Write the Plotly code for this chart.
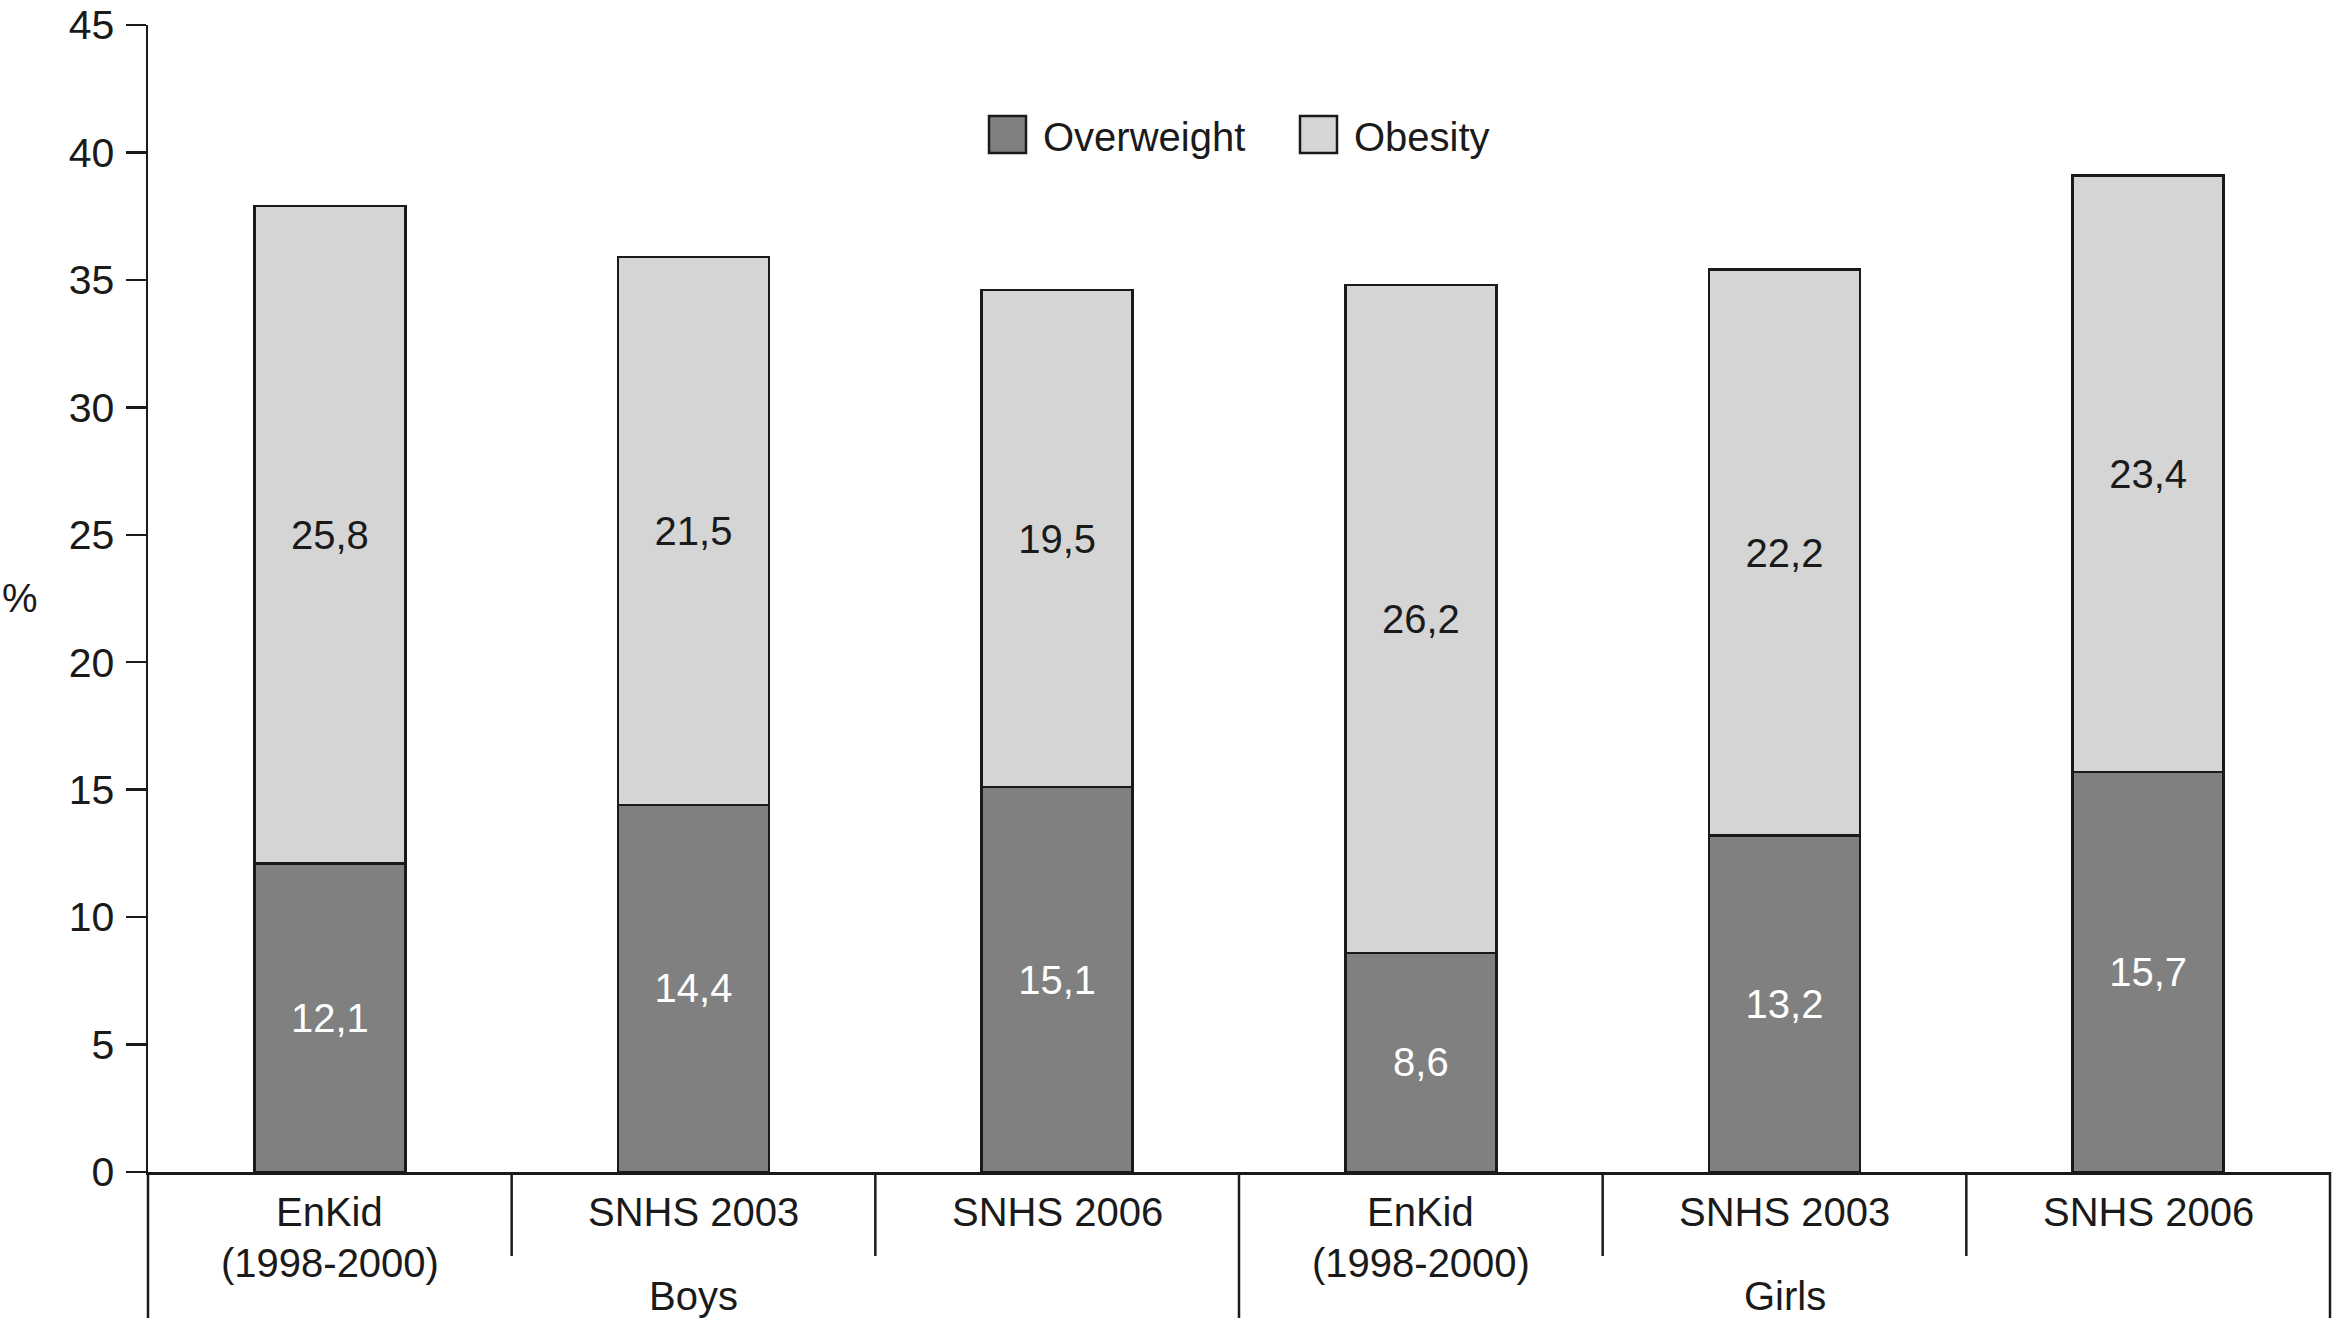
import plotly.graph_objects as go

# ---- data ----
categories = ["EnKid (1998-2000)", "SNHS 2003", "SNHS 2006",
              "EnKid (1998-2000)", "SNHS 2003", "SNHS 2006"]
cat_line1 = ["EnKid", "SNHS 2003", "SNHS 2006", "EnKid", "SNHS 2003", "SNHS 2006"]
cat_line2 = ["(1998-2000)", "", "", "(1998-2000)", "", ""]
groups = ["Boys", "Girls"]
overweight = [12.1, 14.4, 15.1, 8.6, 13.2, 15.7]
obesity = [25.8, 21.5, 19.5, 26.2, 22.2, 23.4]
y_ticks = [0, 5, 10, 15, 20, 25, 30, 35, 40, 45]

# ---- geometry (page pixels; body margin is removed by a post script) ----
W, H = 2333, 1326
AX_L, AX_R, AX_T, AX_B = 148, 2330, 25, 1172   # plot area in page pixels
ML, MT = AX_L, AX_T
MR = W - AX_R
MB = H - AX_B
PW = AX_R - AX_L
PH = AX_B - AX_T
FONT = "Liberation Sans, Arial, sans-serif"
INK = "#1a1a1a"


def px_x(px):
    return (px - AX_L) / PW


def px_y(py):
    return (AX_B - py) / PH


def fmt(v):
    return f"{v:.1f}".replace(".", ",")


xs = list(range(len(categories)))

fig = go.Figure()
fig.add_trace(go.Bar(
    x=xs, y=overweight, name="Overweight",
    marker=dict(color="#808080", line=dict(color=INK, width=2.5)),
    text=[fmt(v) for v in overweight], textposition="inside",
    insidetextanchor="middle", textangle=0, constraintext="none",
    textfont=dict(family=FONT, size=40, color="white"),
    width=0.415, showlegend=False,
))
fig.add_trace(go.Bar(
    x=xs, y=obesity, name="Obesity",
    marker=dict(color="#d5d5d5", line=dict(color=INK, width=2.5)),
    text=[fmt(v) for v in obesity], textposition="inside",
    insidetextanchor="middle", textangle=0, constraintext="none",
    textfont=dict(family=FONT, size=40, color=INK),
    width=0.415, showlegend=False,
))

shapes = []
annotations = []
n = len(categories)
# category separators below axis
for k in range(n + 1):
    long_line = k in (0, n // 2, n)
    y1 = px_y(1318) if long_line else px_y(1256)
    shapes.append(dict(type="line", xref="paper", yref="paper",
                       x0=k / n, x1=k / n, y0=0, y1=y1,
                       line=dict(color=INK, width=2.5)))

# category labels
for i in range(n):
    xc = (i + 0.5) / n
    annotations.append(dict(xref="paper", yref="paper", x=xc, y=px_y(1212),
                            text=cat_line1[i], showarrow=False,
                            xanchor="center", yanchor="middle",
                            font=dict(family=FONT, size=40, color=INK)))
    if cat_line2[i]:
        annotations.append(dict(xref="paper", yref="paper", x=xc, y=px_y(1263),
                                text=cat_line2[i], showarrow=False,
                                xanchor="center", yanchor="middle",
                                font=dict(family=FONT, size=40, color=INK)))
for g, name in enumerate(groups):
    xc = (g * 3 + 1.5) / n
    annotations.append(dict(xref="paper", yref="paper", x=xc, y=px_y(1296),
                            text=name, showarrow=False,
                            xanchor="center", yanchor="middle",
                            font=dict(family=FONT, size=40, color=INK)))

# manual legend
legend_items = [("Overweight", "#808080", 989), ("Obesity", "#d5d5d5", 1300)]
for label, color, x0 in legend_items:
    shapes.append(dict(type="rect", xref="paper", yref="paper",
                       x0=px_x(x0), x1=px_x(x0 + 37), y0=px_y(153), y1=px_y(116),
                       fillcolor=color, line=dict(color=INK, width=2.5)))
    annotations.append(dict(xref="paper", yref="paper", x=px_x(x0 + 52), y=px_y(137),
                            text=label, showarrow=False,
                            xanchor="left", yanchor="middle",
                            font=dict(family=FONT, size=40, color=INK)))

# y-axis title "%"
annotations.append(dict(xref="paper", yref="paper", x=px_x(20), y=px_y(598),
                        text="%", showarrow=False, xanchor="center", yanchor="middle",
                        font=dict(family=FONT, size=40, color=INK)))

fig.update_layout(
    width=W, height=H,
    margin=dict(l=ML, r=MR, t=MT, b=MB, pad=0),
    barmode="stack",
    paper_bgcolor="white", plot_bgcolor="white",
    shapes=shapes, annotations=annotations,
    font=dict(family=FONT, color=INK),
    xaxis=dict(range=[-0.5, n - 0.5], showticklabels=False, ticks="",
               showgrid=False, zeroline=False, showline=True,
               linecolor=INK, linewidth=2.5, fixedrange=True),
    yaxis=dict(range=[0, 45], tickvals=y_ticks, ticks="outside", ticklen=20,
               tickwidth=2.5, tickcolor=INK, showgrid=False, zeroline=False,
               showline=True, linecolor=INK, linewidth=2.5,
               tickfont=dict(family=FONT, size=41, color=INK),
               ticklabelstandoff=3, ticklabeloverflow="allow", fixedrange=True),
)

fig.write_html("out.html", config={"displayModeBar": False, "staticPlot": True},
               post_script="document.body.style.margin='0';")
